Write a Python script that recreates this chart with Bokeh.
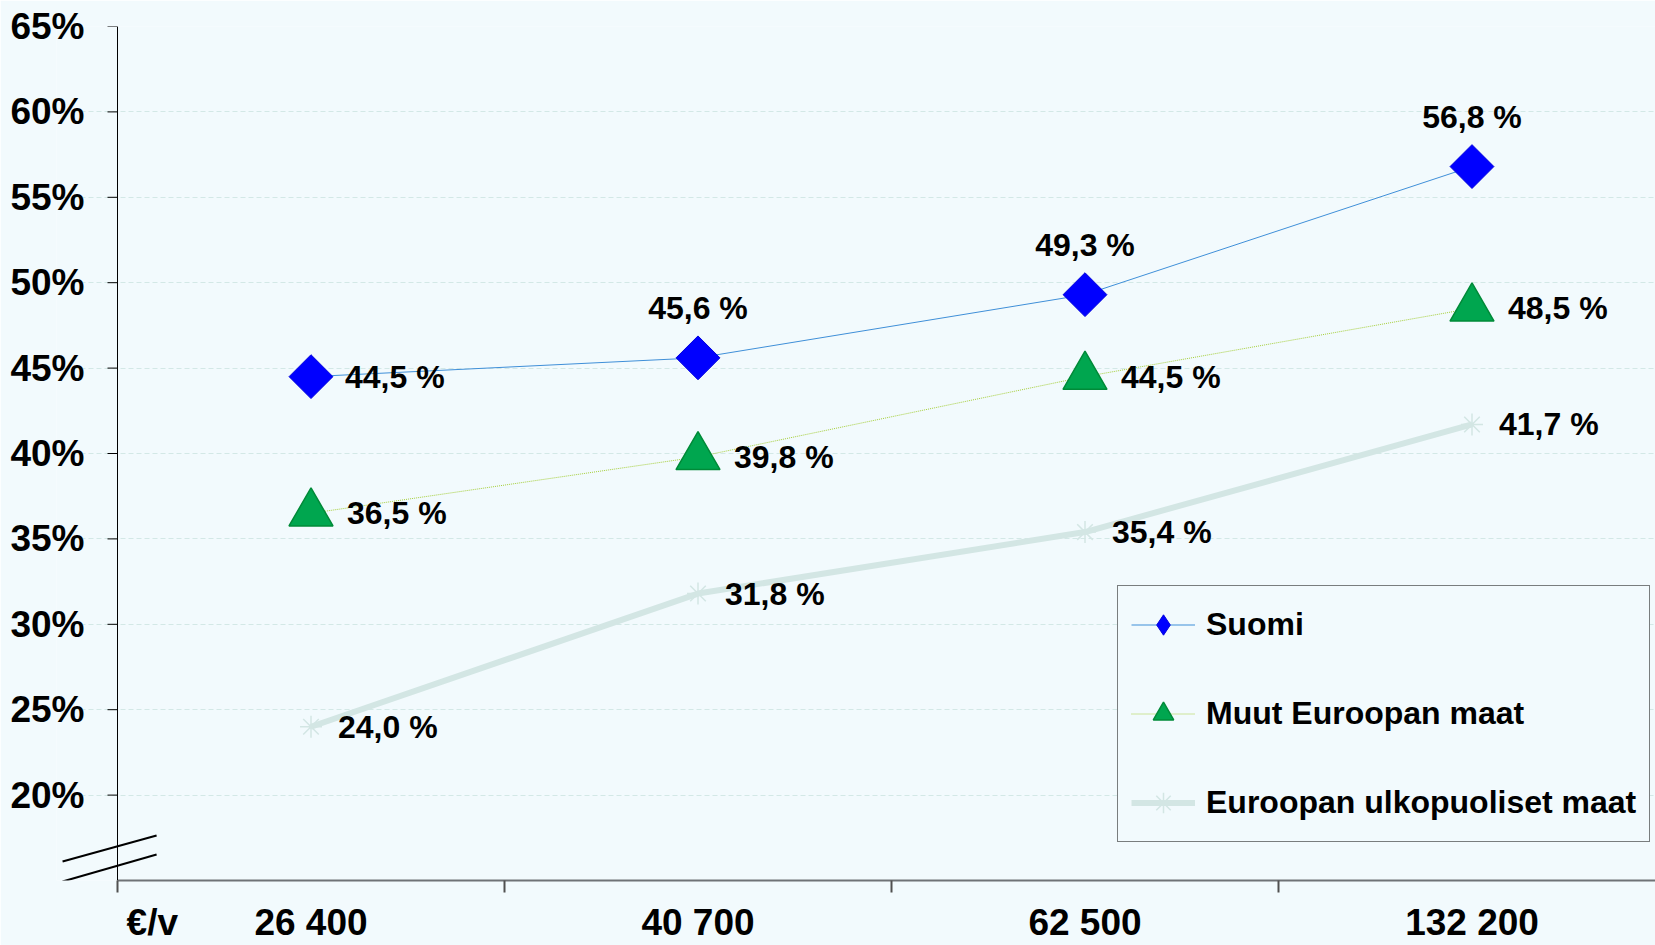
from bokeh.plotting import figure
from bokeh.models import Range1d, FixedTicker, Legend, LegendItem, Span
from bokeh.core.properties import value
from bokeh.embed import file_html
from bokeh.resources import INLINE

# ---- data ----
categories = ["26 400", "40 700", "62 500", "132 200"]
series_names = ["Suomi", "Muut Euroopan maat", "Euroopan ulkopuoliset maat"]
suomi = [44.5, 45.6, 49.3, 56.8]
muut = [36.5, 39.8, 44.5, 48.5]
ulko = [24.0, 31.8, 35.4, 41.7]
y_ticks = [20, 25, 30, 35, 40, 45, 50, 55, 60, 65]
y_tick_labels = ["20%", "25%", "30%", "35%", "40%", "45%", "50%", "55%", "60%", "65%"]
unit_label = "€/v"

# ---- styles / geometry ----
BG = "#f2fafd"
FONT = "Liberation Sans"
CAT_PX = 387.0            # px per category
LEFT_PAD_PX = 61.0        # frame extends left of the value axis (room for break marks)
X_END = (1655 - 117) / CAT_PX
X_START = -LEFT_PAD_PX / CAT_PX
Y_MIN, Y_MAX = 15, 65
TICK_LEN = 10 / CAT_PX
UNIT_POS = 0.09
NAN = float("nan")

C_SUOMI_LINE, C_SUOMI = "#3f8fd8", "#0000ff"
C_MUUT_LINE, C_MUUT, C_MUUT_EDGE = "#a6cf3a", "#00a64f", "#008a38"
C_ULKO = "#d3e6e4"

xs = [i + 0.5 for i in range(len(categories))]
bounds = [float(i) for i in range(len(categories))]


def fmt(v):
    return ("%.1f %%" % v).replace(".", ",")


p = figure(width=1655, height=945, output_backend="svg", toolbar_location=None,
           title=None,
           x_range=Range1d(X_START, X_END), y_range=Range1d(Y_MIN, Y_MAX),
           min_border_left=56, min_border_top=26, min_border_bottom=64,
           min_border_right=0,
           background_fill_color=BG, border_fill_color=BG, outline_line_color=None)

# grid
p.xgrid.visible = False
p.ygrid.ticker = FixedTicker(ticks=y_ticks)
p.ygrid.bounds = (0, X_END)
p.ygrid.grid_line_color = "#d3e8e6"
p.ygrid.grid_line_dash = "5 3"
p.ygrid.grid_line_width = 1

# y axis (labels only; line and ticks drawn at the value-axis position)
p.yaxis.ticker = FixedTicker(ticks=y_ticks)
p.yaxis.major_label_overrides = {t: l for t, l in zip(y_ticks, y_tick_labels)}
p.yaxis.major_label_text_font = FONT
p.yaxis.major_label_text_font_size = "37px"
p.yaxis.major_label_text_font_style = "bold"
p.yaxis.major_label_text_color = "black"
p.yaxis.major_tick_out = 0
p.yaxis.major_tick_in = 0
p.yaxis.major_tick_line_color = None
p.yaxis.minor_tick_line_color = None
p.yaxis.axis_line_color = None
p.yaxis.major_label_standoff = -28

p.add_layout(Span(location=0, dimension="height", line_color="black", line_width=1))
p.segment(x0=[-TICK_LEN] * len(y_ticks), y0=y_ticks, x1=[0] * len(y_ticks), y1=y_ticks,
          line_color="black", line_width=1)

# x axis
x_label_pos = [UNIT_POS] + xs
x_label_txt = [unit_label] + categories
p.xaxis.bounds = (0, X_END)
p.xaxis.ticker = FixedTicker(ticks=x_label_pos, minor_ticks=bounds)
p.xaxis.major_label_overrides = {x: c for x, c in zip(x_label_pos, x_label_txt)}
p.xaxis.major_label_text_font = FONT
p.xaxis.major_label_text_font_size = "37px"
p.xaxis.major_label_text_font_style = "bold"
p.xaxis.major_label_text_color = "black"
p.xaxis.major_tick_line_color = None
p.xaxis.major_tick_out = 0
p.xaxis.major_tick_in = 0
p.xaxis.minor_tick_out = 12
p.xaxis.minor_tick_in = 0
p.xaxis.minor_tick_line_color = "#505050"
p.xaxis.minor_tick_line_width = 2
p.xaxis.axis_line_color = "#6f7276"
p.xaxis.axis_line_width = 2
p.xaxis.major_label_standoff = 9

# axis-break marks (two parallel slashes across the value axis)
p.segment(x0=[-0.142, -0.142], y0=[16.11, 14.94], x1=[0.101, 0.101], y1=[17.63, 16.52],
          line_color="black", line_width=2)

# series
l3 = p.line(xs, ulko, line_color=C_ULKO, line_width=6)
s3 = p.scatter(xs, ulko, marker="asterisk", size=22, line_color=C_ULKO, line_width=1.5)

l2 = p.line(xs, muut, line_color=C_MUUT_LINE, line_width=1, line_dash="1 1")
s2 = p.scatter(xs, muut, marker="triangle", size=44, fill_color=C_MUUT,
               line_color=C_MUUT_EDGE, line_width=1.5)

l1 = p.line(xs, suomi, line_color=C_SUOMI_LINE, line_width=1)
s1 = p.scatter(xs, suomi, marker="square", angle=0.7854, size=31,
               fill_color=C_SUOMI, line_color="#0000dd", line_width=1)

# legend-only diamond key (legend draws markers unrotated); no visible point
k1 = p.scatter(x=[NAN], y=[NAN], marker="diamond", fill_color=C_SUOMI, line_color="#0000dd")

# data labels
txt = dict(text_font=value(FONT), text_font_size=value("32px"), text_font_style="bold",
           text_color="black", text_baseline="middle")
p.text(xs[:1], suomi[:1], text=[fmt(v) for v in suomi[:1]], x_offset=34,
       text_align="left", **txt)
p.text(xs[1:], suomi[1:], text=[fmt(v) for v in suomi[1:]], y_offset=-50,
       text_align="center", **txt)
p.text(xs, muut, text=[fmt(v) for v in muut], x_offset=36, text_align="left", **txt)
p.text(xs, ulko, text=[fmt(v) for v in ulko], x_offset=27, text_align="left", **txt)

# legend
legend = Legend(items=[
    LegendItem(label=series_names[0], renderers=[l1, k1]),
    LegendItem(label=series_names[1], renderers=[l2, s2]),
    LegendItem(label=series_names[2], renderers=[l3, s3]),
], location=(1061, 38), orientation="vertical",
    glyph_width=64, glyph_height=51, spacing=38, padding=13, label_standoff=11,
    margin=0, border_line_color="black", border_line_width=1,
    background_fill_color=BG, background_fill_alpha=1.0,
    label_text_font=FONT, label_text_font_size="32px", label_text_font_style="bold",
    label_text_color="black")
p.add_layout(legend)

open("out.html", "w").write(file_html(p, INLINE))
